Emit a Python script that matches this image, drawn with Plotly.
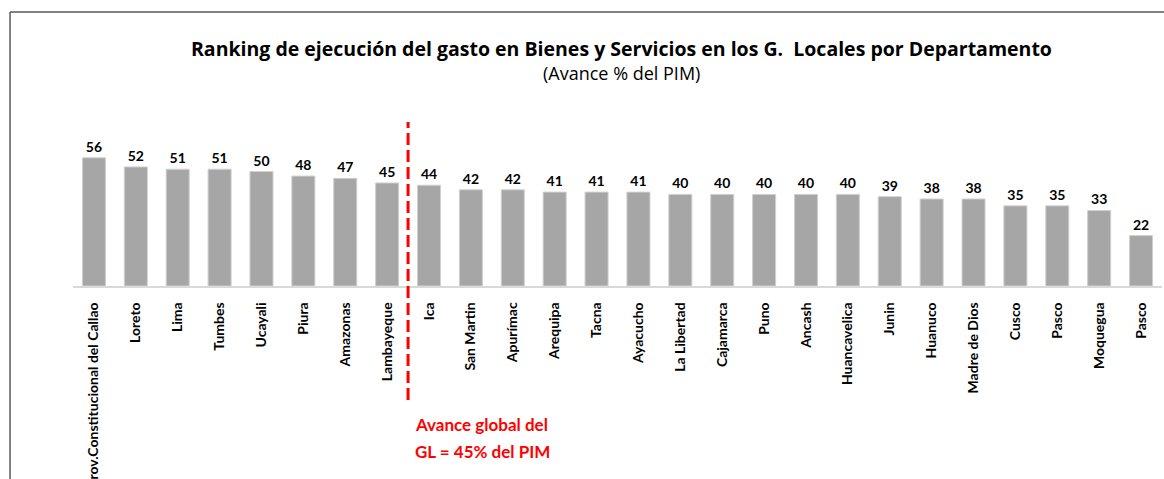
import plotly.graph_objects as go

departamentos = ["Prov.Constitucional del Callao", "Loreto", "Lima", "Tumbes", "Ucayali", "Piura",
                 "Amazonas", "Lambayeque", "Ica", "San Martin", "Apurímac", "Arequipa", "Tacna",
                 "Ayacucho", "La Libertad", "Cajamarca", "Puno", "Ancash", "Huancavelica", "Junin",
                 "Huanuco", "Madre de Dios", "Cusco", "Pasco", "Moquegua", "Pasco"]
avance = [56, 52, 51, 51, 50, 48, 47, 45, 44, 42, 42, 41, 41, 41, 40, 40, 40, 40, 40, 39,
          38, 38, 35, 35, 33, 22]
avance_global = 45
titulo = "Ranking de ejecución del gasto en Bienes y Servicios en los G.  Locales por Departamento"
subtitulo = "(Avance % del PIM)"
nota_l1 = "Avance global del"
nota_l2 = "GL = 45% del PIM"

FONT = "Lato"
idx = list(range(len(departamentos)))

# plot area in pixels
L, R, T, B = 72.5, 1162.0, 100.0, 286.0
PW, PH = R - L, B - T
def px(x):
    return (x - L) / PW
def py(y):
    return (B - y) / PH

fig = go.Figure()
fig.add_trace(go.Bar(
    x=idx, y=avance,
    marker=dict(color="#A6A6A6", line=dict(color="#D0D0D0", width=1)),
    text=[str(v) for v in avance], textposition="outside", cliponaxis=False,
    textfont=dict(family=FONT, size=14, color="#000000", weight="bold"),
    width=0.55,
))

split_pos = sum(1 for v in avance if v >= avance_global) - 0.5
fig.add_shape(type="line", xref="x", yref="paper", x0=split_pos, x1=split_pos,
              y0=py(400), y1=py(122), line=dict(color="#FF0000", width=3, dash="12px,5px"))
fig.add_annotation(xref="paper", yref="paper", x=px(413), y=py(424), xanchor="left", yanchor="middle",
                   text=nota_l1, showarrow=False,
                   font=dict(family=FONT, size=17, color="#FF0000", weight="bold"))
fig.add_annotation(xref="paper", yref="paper", x=px(413), y=py(451), xanchor="left", yanchor="middle",
                   text=nota_l2, showarrow=False,
                   font=dict(family=FONT, size=17, color="#FF0000", weight="bold"))

# outer frame (left and top)
fig.add_shape(type="line", xref="paper", yref="paper", x0=px(9.5), x1=px(1164), y0=py(12), y1=py(12),
              line=dict(color="#595959", width=1.5))
fig.add_shape(type="line", xref="paper", yref="paper", x0=px(9.5), x1=px(9.5), y0=py(480), y1=py(12),
              line=dict(color="#595959", width=1.5))

fig.add_annotation(xref="paper", yref="paper", x=px(621), y=py(48), xanchor="center",
                   yanchor="middle", text="<b>" + titulo + "</b>", showarrow=False,
                   font=dict(family="Open Sans", size=19.5, color="#000000"))
fig.add_annotation(xref="paper", yref="paper", x=px(621), y=py(73), xanchor="center",
                   yanchor="middle", text=subtitulo, showarrow=False,
                   font=dict(family="Open Sans", size=18, color="#000000"))

fig.update_layout(
    width=1164, height=479,
    margin=dict(l=L, r=1164 - R, t=T, b=479 - B, pad=0, autoexpand=False),
    paper_bgcolor="white", plot_bgcolor="white",
    showlegend=False, bargap=0.45,
    xaxis=dict(tickmode="array", tickvals=idx, ticktext=departamentos, tickangle=-90,
               range=[-0.5, len(departamentos) - 0.5], showgrid=False, zeroline=False,
               showline=True, linecolor="#D9D9D9", linewidth=1.5, ticks="",
               ticklabelstandoff=9, automargin=False,
               tickfont=dict(family=FONT, size=14, color="#000000", weight="bold")),
    yaxis=dict(range=[0, PH / 2.29], visible=False, showgrid=False, zeroline=False,
               automargin=False),
)

fig.write_html("out.html", config={"displayModeBar": False},
               post_script="document.body.style.margin='0';")
